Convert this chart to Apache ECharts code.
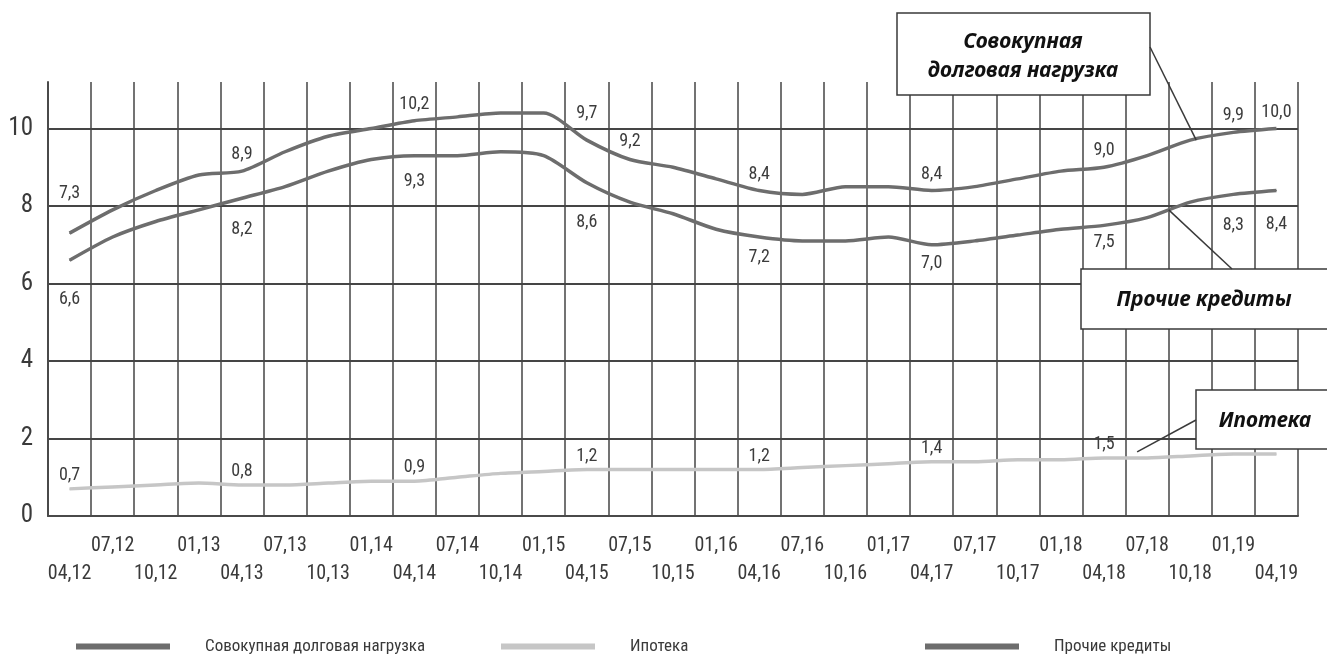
<!DOCTYPE html>
<html>
<head>
<meta charset="utf-8">
<script src="https://cdn.jsdelivr.net/npm/echarts@6/dist/echarts.min.js"></script>
<style>
  html, body { margin: 0; padding: 0; background: #ffffff; }
  #chart { width: 1327px; height: 662px; }
</style>
</head>
<body>
<div id="chart"></div>
<script>
// Quarter labels (month,year)
const categories = [
  '04,12', '07,12', '10,12', '01,13', '04,13', '07,13', '10,13', '01,14',
  '04,14', '07,14', '10,14', '01,15', '04,15', '07,15', '10,15', '01,16',
  '04,16', '07,16', '10,16', '01,17', '04,17', '07,17', '10,17', '01,18',
  '04,18', '07,18', '10,18', '01,19', '04,19'
];

// Debt service ratio, % of disposable income
const totalLoad = [
  7.3, 7.9, 8.4, 8.8, 8.9, 9.4, 9.8, 10.0, 10.2, 10.3, 10.4, 10.4, 9.7, 9.2,
  9.0, 8.7, 8.4, 8.3, 8.5, 8.5, 8.4, 8.5, 8.7, 8.9, 9.0, 9.3, 9.7, 9.9, 10.0
];
const mortgage = [
  0.7, 0.75, 0.8, 0.85, 0.8, 0.8, 0.85, 0.9, 0.9, 1.0, 1.1, 1.15, 1.2, 1.2,
  1.2, 1.2, 1.2, 1.25, 1.3, 1.35, 1.4, 1.4, 1.45, 1.45, 1.5, 1.5, 1.55, 1.6, 1.6
];
const otherLoans = [
  6.6, 7.2, 7.6, 7.9, 8.2, 8.5, 8.9, 9.2, 9.3, 9.3, 9.4, 9.3, 8.6, 8.1,
  7.8, 7.4, 7.2, 7.1, 7.1, 7.2, 7.0, 7.1, 7.25, 7.4, 7.5, 7.7, 8.1, 8.3, 8.4
];

// Points that carry a value label
const totalLabeled = [0, 4, 8, 12, 13, 16, 20, 24, 27, 28];
const otherLabeled = [0, 4, 8, 12, 16, 20, 24, 27, 28];
const mortgageLabeled = [0, 4, 8, 12, 16, 20, 24];

const seriesNames = ['Совокупная долговая нагрузка', 'Ипотека', 'Прочие кредиты'];
const yTicks = [0, 2, 4, 6, 8, 10];

// Label spacing tweaks so the numbers sit clear of the lines
const totalLabelGap = { 0: 30, 12: 17, 13: 9 };
const otherLabelGap = { 0: 30, 4: 22, 8: 16, 12: 30, 16: 11, 20: 9, 24: 8, 27: 22, 28: 24 };

const NARROW = '"Roboto Condensed", "Liberation Sans Narrow", "DejaVu Sans Condensed", sans-serif';
const DARK = '#6d6d6d';
const LIGHT = '#c6c6c6';

function fmt(v) {
  return v.toFixed(1).replace('.', ',');
}

function labeledData(values, labeled, position, gapMap, defGap) {
  return values.map(function (v, i) {
    if (labeled.indexOf(i) < 0) return v;
    return {
      value: v,
      label: {
        show: true,
        position: position,
        distance: (gapMap && gapMap[i] !== undefined) ? gapMap[i] : defGap,
        formatter: function (p) { return fmt(p.value); },
        fontFamily: NARROW,
        fontSize: 18,
        color: '#3c3c3c'
      }
    };
  });
}

const chart = echarts.init(document.getElementById('chart'), null, { renderer: 'canvas' });

function legendBlock(name, left) {
  return {
    data: [name],
    left: left,
    top: 633,
    icon: 'rect',
    itemWidth: 94,
    itemHeight: 6,
    selectedMode: false,
    formatter: '{t|{name}}',
    textStyle: {
      rich: {
        t: {
          fontFamily: NARROW,
          fontSize: 17,
          color: '#3a3a3a',
          padding: [0, 0, 0, 30]
        }
      }
    }
  };
}

function lineSeries(name, values, color, labeled, position, gapMap, defGap) {
  return {
    name: name,
    type: 'line',
    data: labeledData(values, labeled, position, gapMap, defGap),
    smooth: 0.25,
    symbol: 'circle',
    symbolSize: 1,
    showSymbol: true,
    showAllSymbol: true,
    color: color,
    itemStyle: { color: color },
    lineStyle: { color: color, width: 3.5 },
    z: 5
  };
}

const option = {
  backgroundColor: '#ffffff',
  animation: false,
  grid: { left: 48, right: 29, top: 82, bottom: 146 },
  legend: [
    legendBlock(seriesNames[0], 71),
    legendBlock(seriesNames[1], 496),
    legendBlock(seriesNames[2], 920)
  ],
  xAxis: {
    type: 'category',
    data: categories,
    boundaryGap: true,
    axisLine: { show: true, lineStyle: { color: '#4a4a4a', width: 2 } },
    axisTick: { show: false },
    splitLine: { show: true, interval: 0, lineStyle: { color: '#454545', width: 1.5 } },
    axisLabel: {
      interval: 0,
      margin: 16,
      fontFamily: NARROW,
      fontSize: 20,
      lineHeight: 28,
      color: '#3a3a3a',
      formatter: function (v, i) {
        return i % 2 === 0 ? '\n' + v : v;
      }
    }
  },
  yAxis: {
    type: 'value',
    min: 0,
    max: 11.2,
    interval: 2,
    axisLine: { show: true, lineStyle: { color: '#4a4a4a', width: 2 } },
    axisTick: { show: false },
    splitLine: { show: true, showMaxLine: false, lineStyle: { color: '#454545', width: 2 } },
    axisLabel: {
      margin: 15,
      fontFamily: NARROW,
      fontSize: 25,
      color: '#3a3a3a',
      showMaxLabel: false,
      formatter: function (v) { return yTicks.indexOf(v) >= 0 ? String(v) : ''; }
    }
  },
  series: [
    lineSeries(seriesNames[0], totalLoad, DARK, totalLabeled, 'top', totalLabelGap, 7),
    lineSeries(seriesNames[1], mortgage, LIGHT, mortgageLabeled, 'top', null, 4),
    lineSeries(seriesNames[2], otherLoans, DARK, otherLabeled, 'bottom', otherLabelGap, 10)
  ]
};

chart.setOption(option);

// Callout boxes with leader lines pointing at the curves
const CALLOUT_FONT = '"Noto Sans", "Open Sans", "DejaVu Sans", sans-serif';
function calloutText(x, y, text) {
  return {
    type: 'text',
    x: x, y: y, z: 30,
    style: {
      text: text,
      fill: '#111111',
      font: 'italic bold 21px ' + CALLOUT_FONT,
      align: 'center',
      verticalAlign: 'middle'
    }
  };
}
function calloutBox(x, y, w, h) {
  return {
    type: 'rect', z: 20,
    shape: { x: x, y: y, width: w, height: h },
    style: { fill: '#ffffff', stroke: '#3a3a3a', lineWidth: 1.5 }
  };
}
function leader(x1, y1, x2, y2) {
  return {
    type: 'line', z: 25,
    shape: { x1: x1, y1: y1, x2: x2, y2: y2 },
    style: { stroke: '#3a3a3a', lineWidth: 1.5 }
  };
}

function px(i, values) {
  return chart.convertToPixel({ gridIndex: 0 }, [i, values[i]]);
}
const pTotal = px(26, totalLoad);
const pO1 = px(25, otherLoans);
const pO2 = px(26, otherLoans);
const pOther = [(pO1[0] + pO2[0]) / 2, (pO1[1] + pO2[1]) / 2];
const pMort = px(25, mortgage);

chart.setOption({
  graphic: [
    calloutBox(897, 13, 253, 82),
    calloutText(1023, 42, 'Совокупная'),
    calloutText(1023, 71, 'долговая нагрузка'),
    leader(1150, 47, pTotal[0] + 6, pTotal[1]),

    calloutBox(1081, 269, 260, 60),
    calloutText(1204, 300, 'Прочие кредиты'),
    leader(1232, 269, pOther[0], pOther[1]),

    calloutBox(1196, 390, 145, 59),
    calloutText(1265, 421, 'Ипотека'),
    leader(1196, 420, pMort[0] - 10, pMort[1] - 6)
  ]
});
</script>
</body>
</html>
